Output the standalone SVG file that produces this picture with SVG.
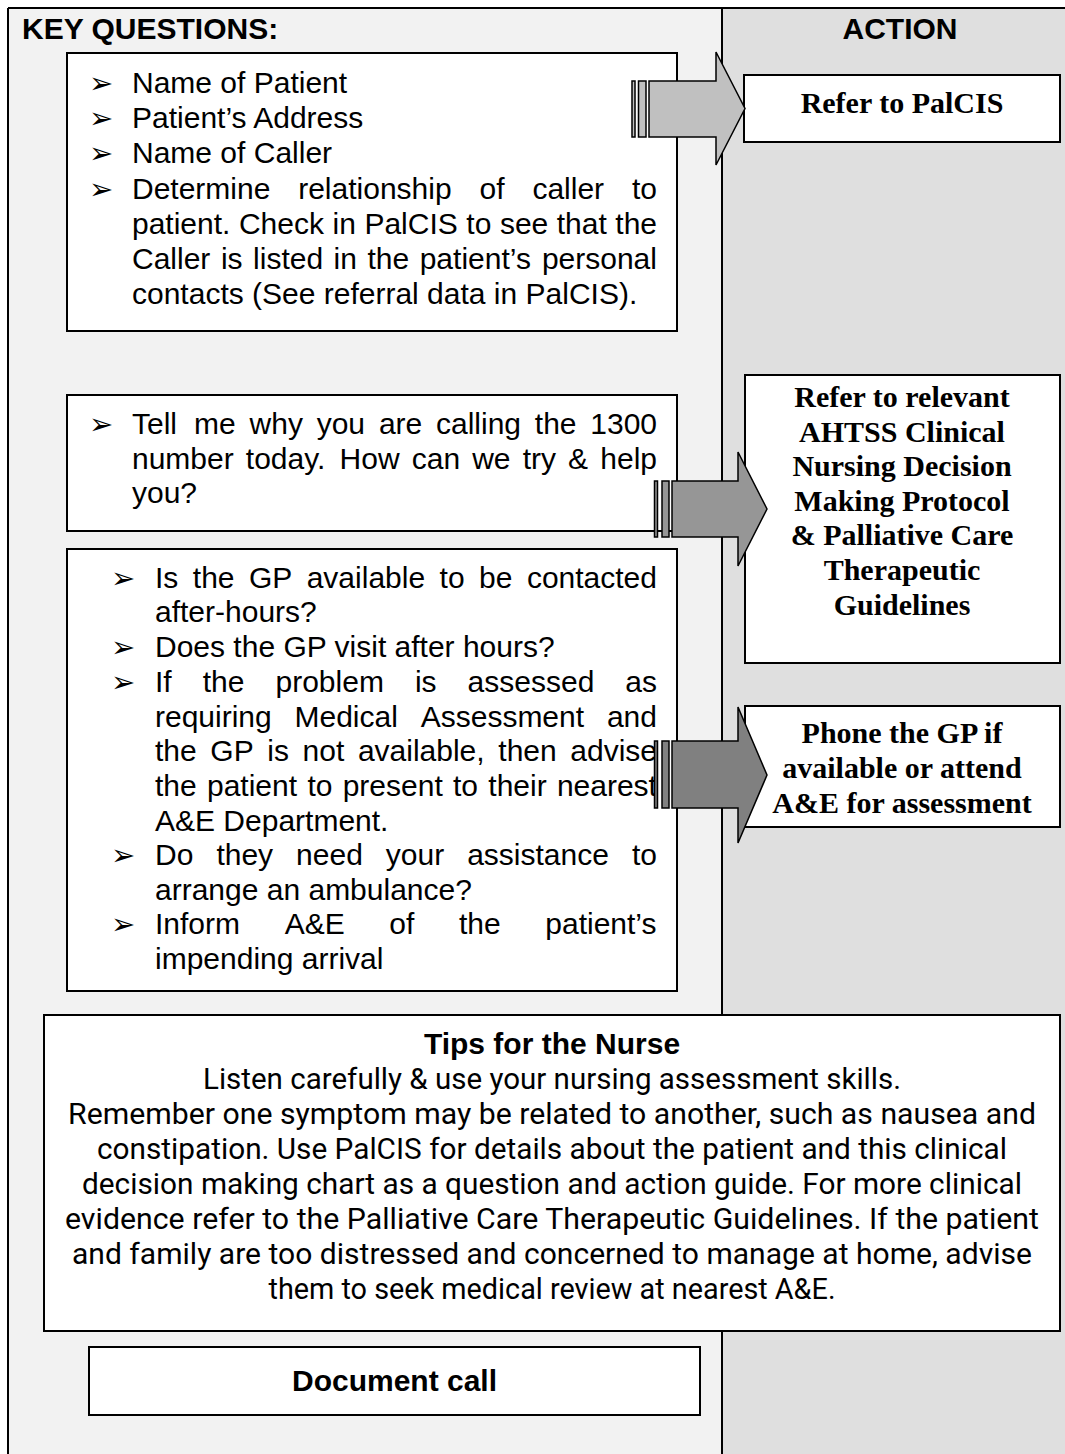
<svg xmlns="http://www.w3.org/2000/svg" width="1065" height="1454" viewBox="0 0 1065 1454">
<style>
.box{fill:#fff;stroke:#000;stroke-width:2}
.q{font-family:"Liberation Sans",Arial,sans-serif;font-size:30px;fill:#000}
.hd{font-family:"Liberation Sans",Arial,sans-serif;font-size:30px;font-weight:bold;fill:#000}
.act{font-family:"Liberation Serif","Times New Roman",serif;font-size:30px;font-weight:bold;fill:#000;text-anchor:middle}
.tip{font-family:Roboto,"Liberation Sans",sans-serif;font-size:29px;fill:#000;text-anchor:middle}
.bl{font-family:"DejaVu Sans",sans-serif;font-size:29px;fill:#000}
.arr{stroke:#000;stroke-width:1.5;stroke-linejoin:miter}
</style>
<rect x="0" y="0" width="1065" height="1454" fill="#fff"/>
<rect x="8" y="8" width="714" height="1446" fill="#f2f2f2"/>
<rect x="722" y="8" width="343" height="1446" fill="#dfdfdf"/>
<g id="frame" fill="none" stroke="#000" stroke-width="2">
<line x1="8" y1="8" x2="1065" y2="8"/>
<line x1="8" y1="8" x2="8" y2="1454"/>
<line x1="722" y1="8" x2="722" y2="1454"/>
</g>
<g id="headers">
<text class="hd" x="22" y="39">KEY QUESTIONS:</text>
<text class="hd" x="900" y="39" text-anchor="middle">ACTION</text>
</g>

<g id="q1">
<rect class="box" x="67" y="53" width="610" height="278"/>
<text class="bl" x="89" y="93">➢</text>
<text class="bl" x="89" y="128">➢</text>
<text class="bl" x="89" y="163">➢</text>
<text class="bl" x="89" y="199">➢</text>
<text class="q" x="132" y="92.5">Name of Patient</text>
<text class="q" x="132" y="127.5">Patient’s Address</text>
<text class="q" x="132" y="162.5">Name of Caller</text>
<text class="q" y="198.5"><tspan x="132">Determine</tspan><tspan x="298.2">relationship</tspan><tspan x="479.5">of</tspan><tspan x="532.4">caller</tspan><tspan x="632">to</tspan></text>
<text class="q" y="233.5"><tspan x="132">patient.</tspan><tspan x="238.9">Check</tspan><tspan x="332.5">in</tspan><tspan x="364.4">PalCIS</tspan><tspan x="466.3">to</tspan><tspan x="499.9">see</tspan><tspan x="556.7">that</tspan><tspan x="615.3">the</tspan></text>
<text class="q" y="268.5"><tspan x="132">Caller</tspan><tspan x="220.9">is</tspan><tspan x="253.1">listed</tspan><tspan x="333.6">in</tspan><tspan x="367.5">the</tspan><tspan x="419.7">patient’s</tspan><tspan x="541.9">personal</tspan></text>
<text class="q" x="132" y="303.5">contacts (See referral data in PalCIS).</text>
</g>

<g id="q2">
<rect class="box" x="67" y="395" width="610" height="136"/>
<text class="bl" x="89" y="434">➢</text>
<text class="q" y="433.5"><tspan x="132">Tell</tspan><tspan x="194.1">me</tspan><tspan x="249.6">why</tspan><tspan x="316.7">you</tspan><tspan x="378.9">are</tspan><tspan x="436">calling</tspan><tspan x="534.8">the</tspan><tspan x="590.3">1300</tspan></text>
<text class="q" y="468.5"><tspan x="132">number</tspan><tspan x="245.8">today.</tspan><tspan x="339.6">How</tspan><tspan x="411.8">can</tspan><tspan x="472.2">we</tspan><tspan x="522.7">try</tspan><tspan x="568.1">&amp;</tspan><tspan x="600.3">help</tspan></text>
<text class="q" x="132" y="502.5">you?</text>
</g>

<g id="q3">
<rect class="box" x="67" y="549" width="610" height="442"/>
<text class="bl" x="111" y="588">➢</text>
<text class="bl" x="111" y="657">➢</text>
<text class="bl" x="111" y="692">➢</text>
<text class="bl" x="111" y="865">➢</text>
<text class="bl" x="111" y="934">➢</text>
<text class="q" y="587.5"><tspan x="155">Is</tspan><tspan x="192.8">the</tspan><tspan x="248.9">GP</tspan><tspan x="306.7">available</tspan><tspan x="439.6">to</tspan><tspan x="479">be</tspan><tspan x="526.9">contacted</tspan></text>
<text class="q" x="155" y="621.5">after-hours?</text>
<text class="q" x="155" y="656.5">Does the GP visit after hours?</text>
<text class="q" y="691.5"><tspan x="155">If</tspan><tspan x="202.7">the</tspan><tspan x="275.5">problem</tspan><tspan x="414.9">is</tspan><tspan x="467.6">assessed</tspan><tspan x="625.3">as</tspan></text>
<text class="q" y="726.5"><tspan x="155">requiring</tspan><tspan x="294.5">Medical</tspan><tspan x="420.7">Assessment</tspan><tspan x="606.9">and</tspan></text>
<text class="q" y="760.5"><tspan x="155">the</tspan><tspan x="210.3">GP</tspan><tspan x="267.3">is</tspan><tspan x="302.6">not</tspan><tspan x="357.9">available,</tspan><tspan x="498.3">then</tspan><tspan x="570.3">advise</tspan></text>
<text class="q" y="795.5"><tspan x="155">the</tspan><tspan x="207">patient</tspan><tspan x="307.4">to</tspan><tspan x="342.7">present</tspan><tspan x="453">to</tspan><tspan x="488.3">their</tspan><tspan x="556.9">nearest</tspan></text>
<text class="q" x="155" y="830.5">A&amp;E Department.</text>
<text class="q" y="864.5"><tspan x="155">Do</tspan><tspan x="216.4">they</tspan><tspan x="296.1">need</tspan><tspan x="385.8">your</tspan><tspan x="467.2">assistance</tspan><tspan x="632">to</tspan></text>
<text class="q" x="155" y="899.5">arrange an ambulance?</text>
<text class="q" y="933.5"><tspan x="155">Inform</tspan><tspan x="284.7">A&amp;E</tspan><tspan x="389.3">of</tspan><tspan x="459">the</tspan><tspan x="545.3">patient’s</tspan></text>
<text class="q" x="155" y="968.5">impending arrival</text>
</g>

<g id="a1">
<rect class="box" x="744" y="75" width="316" height="67"/>
<text class="act" x="902" y="113">Refer to PalCIS</text>
</g>
<g id="a2">
<rect class="box" x="745" y="375" width="315" height="288"/>
<text class="act" x="902" y="407">Refer to relevant</text>
<text class="act" x="902" y="442">AHTSS Clinical</text>
<text class="act" x="902" y="476">Nursing Decision</text>
<text class="act" x="902" y="511">Making Protocol</text>
<text class="act" x="902" y="545">&amp; Palliative Care</text>
<text class="act" x="902" y="580">Therapeutic</text>
<text class="act" x="902" y="615">Guidelines</text>
</g>
<g id="a3">
<rect class="box" x="745" y="706" width="315" height="121"/>
<text class="act" x="902" y="743">Phone the GP if</text>
<text class="act" x="902" y="778">available or attend</text>
<text class="act" x="902" y="813">A&amp;E for assessment</text>
</g>

<g id="connectors">
<g fill="#c0c0c0" class="arr">
<rect x="632" y="81" width="3" height="56"/>
<rect x="638.5" y="81" width="7.5" height="56"/>
<path d="M649,81 H716 V52 L745,108.5 L716,165 V137 H649 Z"/>
</g>
<g fill="#969696" class="arr">
<rect x="654.5" y="481" width="3" height="56"/>
<rect x="662" y="481" width="7" height="56"/>
<path d="M672,481 H738 V452 L767,509 L738,566 V537 H672 Z"/>
</g>
<g fill="#808080" class="arr">
<rect x="654.5" y="741" width="3" height="67"/>
<rect x="662" y="741" width="7" height="67"/>
<path d="M672,741 H738 V707 L767,775 L738,843 V808 H672 Z"/>
</g>
</g>

<g id="tips">
<rect class="box" x="44" y="1015" width="1016" height="316"/>
<text class="hd" x="552" y="1054" text-anchor="middle">Tips for the Nurse</text>
<text class="tip" x="552" y="1089" textLength="698" lengthAdjust="spacingAndGlyphs">Listen carefully &amp; use your nursing assessment skills.</text>
<text class="tip" x="552" y="1124" textLength="968" lengthAdjust="spacingAndGlyphs">Remember one symptom may be related to another, such as nausea and</text>
<text class="tip" x="552" y="1159" textLength="910" lengthAdjust="spacingAndGlyphs">constipation. Use PalCIS for details about the patient and this clinical</text>
<text class="tip" x="552" y="1194" textLength="940" lengthAdjust="spacingAndGlyphs">decision making chart as a question and action guide. For more clinical</text>
<text class="tip" x="552" y="1229" textLength="974" lengthAdjust="spacingAndGlyphs">evidence refer to the Palliative Care Therapeutic Guidelines. If the patient</text>
<text class="tip" x="552" y="1264" textLength="960" lengthAdjust="spacingAndGlyphs">and family are too distressed and concerned to manage at home, advise</text>
<text class="tip" x="552" y="1299" textLength="567" lengthAdjust="spacingAndGlyphs">them to seek medical review at nearest A&amp;E.</text>
</g>

<g id="doc">
<rect class="box" x="89" y="1347" width="611" height="68"/>
<text class="hd" x="394.5" y="1391" text-anchor="middle">Document call</text>
</g>
</svg>
